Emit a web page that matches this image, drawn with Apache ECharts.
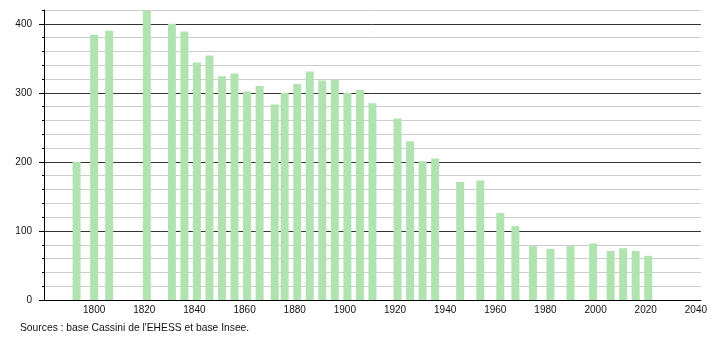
<!DOCTYPE html>
<html>
<head>
<meta charset="utf-8">
<script src="https://cdn.jsdelivr.net/npm/echarts@6/dist/echarts.min.js"></script>
<style>
html,body{margin:0;padding:0;background:#fff;}
#chart{width:710px;height:340px;}
</style>
</head>
<body>
<div id="chart"></div>
<script>
const years = [1793,1800,1806,1821,1831,1836,1841,1846,1851,1856,1861,1866,1872,1876,1881,1886,1891,1896,1901,1906,1911,1921,1926,1931,1936,1946,1954,1962,1968,1975,1982,1990,1999,2006,2011,2016,2021];
const population = [200,384,390,419,400,389,344,354,324,328,302,310,283,300,313,331,318,319,300,304,285,263,230,201,205,171,173,126,107,78,74,78,82,71,75,71,64];
const xTickLabels = [1800,1820,1840,1860,1880,1900,1920,1940,1960,1980,2000,2020,2040];
const yTickLabels = [0,100,200,300,400];
const sourceText = "Sources : base Cassini de l'EHESS et base Insee.";

const chart = echarts.init(document.getElementById('chart'), null, {renderer: 'canvas'});
const font = 'Liberation Sans, Arial, sans-serif';
chart.setOption({
  animation: false,
  backgroundColor: '#ffffff',
  grid: {left: 44, right: 9, top: 10, bottom: 40, containLabel: false},
  xAxis: {
    type: 'value', min: 1780, max: 2042, interval: 20,
    axisLine: {show: true, lineStyle: {color: '#000', width: 1}},
    axisTick: {show: false},
    splitLine: {show: false},
    axisLabel: {
      customValues: xTickLabels,
      formatter: v => String(v),
      color: '#111', fontSize: 10, fontFamily: font, margin: 5
    }
  },
  yAxis: [{
    type: 'value', min: 0, max: 420, interval: 20,
    axisLine: {show: true, lineStyle: {color: '#000', width: 1}},
    axisTick: {show: true, length: 2, lineStyle: {color: '#000'}},
    splitLine: {show: true, lineStyle: {color: ['#333','#cccccc','#cccccc','#cccccc','#cccccc'], width: 1}},
    axisLabel: {customValues: yTickLabels, formatter: v => String(v), color: '#111', fontSize: 10, fontFamily: font, margin: 12}
  }, {
    type: 'value', min: 0, max: 420, position: 'left',
    axisLine: {show: false},
    axisTick: {show: true, length: 5, customValues: yTickLabels, lineStyle: {color: '#000'}},
    splitLine: {show: false},
    axisLabel: {show: false}
  }],
  series: [{
    type: 'bar',
    yAxisIndex: 0,
    barWidth: 8,
    itemStyle: {color: '#b1e3b1'},
    data: years.map((y, i) => [y, population[i]])
  }],
  graphic: [{
    type: 'text', left: 20, top: 323,
    style: {text: sourceText, fill: '#111', font: '10.3px ' + font}
  }]
});
</script>
</body>
</html>
